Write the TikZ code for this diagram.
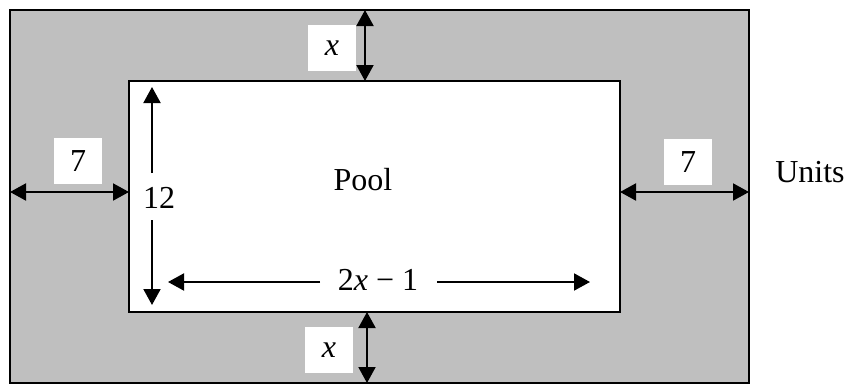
\documentclass[tikz,border=0pt]{standalone}
\usepackage{fontspec}
\setmainfont{Liberation Serif}
\usetikzlibrary{arrows.meta}
\begin{document}
\begin{tikzpicture}[x=1pt,y=-1pt,
  lbl/.style={font=\fontsize{32}{38}\selectfont, inner sep=0pt},
  tagbox/.style={lbl, fill=white, minimum width=48pt, minimum height=46pt},
  border/.style={line width=2.2pt},
  tip/.tip={Triangle[length=16pt 0,width=17pt 0]},
  dimline/.style={line width=2pt, tip-tip},
  halfline/.style={line width=2pt, -tip},
]
\useasboundingbox (0,0) rectangle (849,386);
% deck and pool
\fill[black!25] (10,10) rectangle (749,383);
\draw[border] (10,10) rectangle (749,383);
\draw[border, fill=white] (129,81) rectangle (620,312);
% labels
\node[lbl] (pool) at (363,180) {Pool};
\node[lbl] (units) at (810,172) {Units};
\node[tagbox] (xtop) at (332,48) {\textit{x}};
\node[tagbox] (xbot) at (329,350) {\textit{x}};
\node[tagbox] (sevenL) at (78,161) {7};
\node[tagbox] (sevenR) at (688,162) {7};
\node[lbl] (twelve) at (159,198) {12};
\node[lbl] (len) at (378,280) {2\textit{x} − 1};
% end points
\coordinate (ta) at (365,10);
\coordinate (tb) at (365,81);
\coordinate (ba) at (367,312);
\coordinate (bb) at (367,383);
\coordinate (la) at (10,192);
\coordinate (lb) at (129,192);
\coordinate (ra) at (620,192);
\coordinate (rb) at (749,192);
\coordinate (twTopEnd) at (152,173);
\coordinate (twTopTip) at (152,87);
\coordinate (twBotEnd) at (152,220);
\coordinate (twBotTip) at (152,305);
\coordinate (lenLEnd) at (320,282);
\coordinate (lenLTip) at (168,282);
\coordinate (lenREnd) at (437,282);
\coordinate (lenRTip) at (590,282);
% dimension arrows
\draw[dimline] (ta) -- (tb);
\draw[dimline] (ba) -- (bb);
\draw[dimline] (la) -- (lb);
\draw[dimline] (ra) -- (rb);
\draw[halfline] (twTopEnd) -- (twTopTip);
\draw[halfline] (twBotEnd) -- (twBotTip);
\draw[halfline] (lenLEnd) -- (lenLTip);
\draw[halfline] (lenREnd) -- (lenRTip);
\end{tikzpicture}
\end{document}
